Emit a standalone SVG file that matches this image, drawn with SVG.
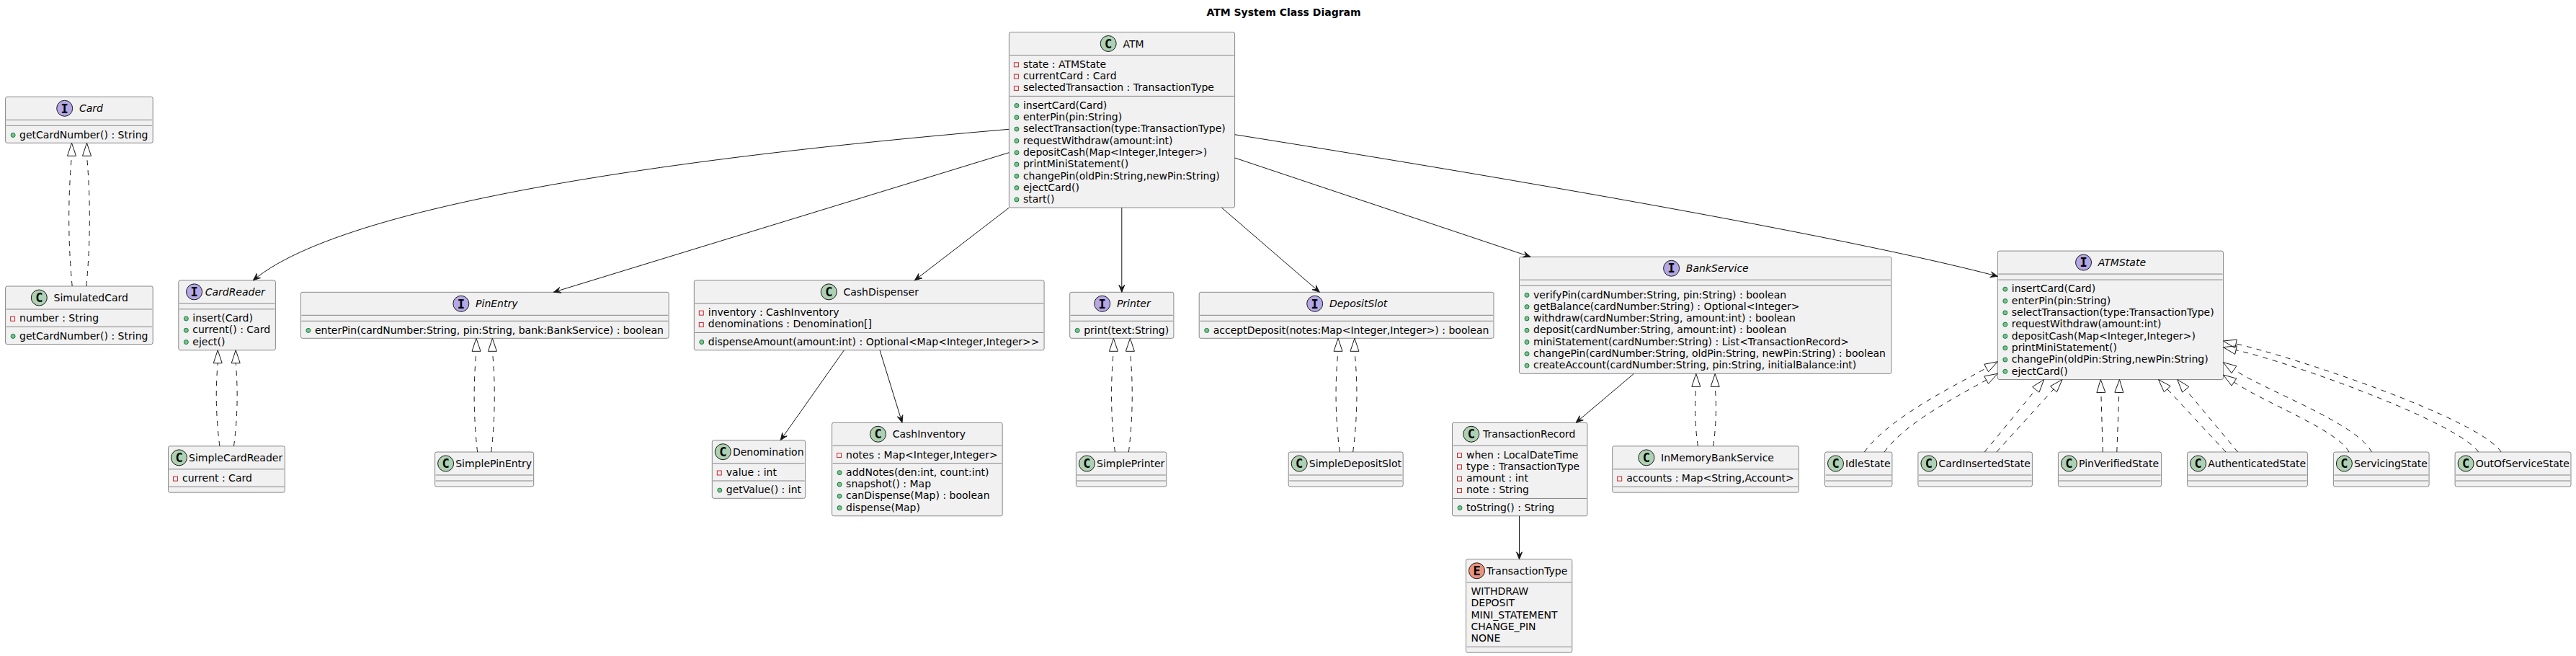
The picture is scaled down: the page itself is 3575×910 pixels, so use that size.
<svg xmlns="http://www.w3.org/2000/svg" width="3575" height="910" viewBox="0 0 3575 910">
<style>
.bx{fill:#F1F1F1;stroke:#181818;stroke-width:0.5}
.sp{stroke:#181818;stroke-width:0.5}
.t{font-family:"DejaVu Sans",sans-serif;font-size:14px;fill:#000000}
.it{font-style:italic}
.ttl{font-family:"DejaVu Sans",sans-serif;font-size:14px;font-weight:bold;fill:#000000;text-anchor:middle}
.cc{fill:#ADD1B2;stroke:#181818;stroke-width:1}
.ci{fill:#B4A7E5;stroke:#181818;stroke-width:1}
.ce{fill:#EB937F;stroke:#181818;stroke-width:1}
.lt{font-family:"DejaVu Sans Mono",monospace;font-weight:bold;font-size:17px;fill:#000000;text-anchor:middle}
.pub{fill:#84BE84;stroke:#038048;stroke-width:1}
.prv{fill:none;stroke:#C82930;stroke-width:1}
.ed{fill:none;stroke:#181818;stroke-width:1}
.ds{fill:none;stroke:#181818;stroke-width:1;stroke-dasharray:7,7}
.ah{fill:#181818;stroke:#181818;stroke-width:1}
.tr{fill:none;stroke:#181818;stroke-width:1}
</style>
<rect width="3575" height="910" fill="#FFFFFF"/>
<text class="ttl" x="1781.5" y="22">ATM System Class Diagram</text>

<g id="Card">
<rect class="bx" x="7.6" y="134.3" width="204.6" height="64" rx="2.5"/>
<circle class="ci" cx="89.7" cy="150.3" r="11"/><text class="lt" x="89.7" y="156.5">I</text>
<text class="t it" x="109.9" y="155.3">Card</text>
<line class="sp" x1="8.6" y1="166.3" x2="211.2" y2="166.3"/><line class="sp" x1="8.6" y1="174.3" x2="211.2" y2="174.3"/>
<circle class="pub" cx="18.1" cy="187.4" r="3"/><text class="t" x="27.1" y="191.6">getCardNumber() : String</text>
</g>

<g id="SimulatedCard">
<rect class="bx" x="7.6" y="397" width="204.6" height="80.6" rx="2.5"/>
<circle class="cc" cx="54.3" cy="413" r="11"/><text class="lt" x="54.3" y="419.2">C</text>
<text class="t" x="74.5" y="418">SimulatedCard</text>
<line class="sp" x1="8.6" y1="429" x2="211.2" y2="429"/><line class="sp" x1="8.6" y1="453.3" x2="211.2" y2="453.3"/>
<rect class="prv" x="14.6" y="439.3" width="6" height="6"/><text class="t" x="27.1" y="446.3">number : String</text>
<circle class="pub" cx="18.1" cy="466.4" r="3"/><text class="t" x="27.1" y="470.6">getCardNumber() : String</text>
</g>

<g id="CardReader">
<rect class="bx" x="247.8" y="388.85" width="134.6" height="96.9" rx="2.5"/>
<circle class="ci" cx="269.55" cy="404.85" r="11"/><text class="lt" x="269.55" y="411.05">I</text>
<text class="t it" x="284.65" y="409.85">CardReader</text>
<line class="sp" x1="248.8" y1="420.85" x2="381.4" y2="420.85"/><line class="sp" x1="248.8" y1="428.85" x2="381.4" y2="428.85"/>
<circle class="pub" cx="258.3" cy="441.95" r="3"/><text class="t" x="267.3" y="446.15">insert(Card)</text>
<circle class="pub" cx="258.3" cy="458.25" r="3"/><text class="t" x="267.3" y="462.45">current() : Card</text>
<circle class="pub" cx="258.3" cy="474.55" r="3"/><text class="t" x="267.3" y="478.75">eject()</text>
</g>

<g id="SimpleCardReader">
<rect class="bx" x="233.5" y="618.85" width="161.8" height="64.3" rx="2.5"/>
<circle class="cc" cx="248.5" cy="634.85" r="11"/><text class="lt" x="248.5" y="641.05">C</text>
<text class="t" x="262.1" y="639.85">SimpleCardReader</text>
<line class="sp" x1="234.5" y1="650.85" x2="394.3" y2="650.85"/><line class="sp" x1="234.5" y1="675.15" x2="394.3" y2="675.15"/>
<rect class="prv" x="240.5" y="661.15" width="6" height="6"/><text class="t" x="253" y="668.15">current : Card</text>
</g>

<g id="PinEntry">
<rect class="bx" x="417.4" y="405.3" width="510.8" height="64" rx="2.5"/>
<circle class="ci" cx="639.85" cy="421.3" r="11"/><text class="lt" x="639.85" y="427.5">I</text>
<text class="t it" x="660.05" y="426.3">PinEntry</text>
<line class="sp" x1="418.4" y1="437.3" x2="927.2" y2="437.3"/><line class="sp" x1="418.4" y1="445.3" x2="927.2" y2="445.3"/>
<circle class="pub" cx="427.9" cy="458.4" r="3"/><text class="t" x="436.9" y="462.6">enterPin(cardNumber:String, pin:String, bank:BankService) : boolean</text>
</g>

<g id="SimplePinEntry">
<rect class="bx" x="603.6" y="627" width="137.1" height="48" rx="2.5"/>
<circle class="cc" cx="618.6" cy="643" r="11"/><text class="lt" x="618.6" y="649.2">C</text>
<text class="t" x="632.2" y="648">SimplePinEntry</text>
<line class="sp" x1="604.6" y1="659" x2="739.7" y2="659"/><line class="sp" x1="604.6" y1="667" x2="739.7" y2="667"/>
</g>

<g id="CashDispenser">
<rect class="bx" x="963.3" y="388.85" width="485.8" height="96.9" rx="2.5"/>
<circle class="cc" cx="1150.25" cy="404.85" r="11"/><text class="lt" x="1150.25" y="411.05">C</text>
<text class="t" x="1170.45" y="409.85">CashDispenser</text>
<line class="sp" x1="964.3" y1="420.85" x2="1448.1" y2="420.85"/><line class="sp" x1="964.3" y1="461.45" x2="1448.1" y2="461.45"/>
<rect class="prv" x="970.3" y="431.15" width="6" height="6"/><text class="t" x="982.8" y="438.15">inventory : CashInventory</text>
<rect class="prv" x="970.3" y="447.45" width="6" height="6"/><text class="t" x="982.8" y="454.45">denominations : Denomination[]</text>
<circle class="pub" cx="973.8" cy="474.55" r="3"/><text class="t" x="982.8" y="478.75">dispenseAmount(amount:int) : Optional&lt;Map&lt;Integer,Integer&gt;&gt;</text>
</g>

<g id="Denomination">
<rect class="bx" x="988.3" y="610.7" width="129.4" height="80.6" rx="2.5"/>
<circle class="cc" cx="1003.3" cy="626.7" r="11"/><text class="lt" x="1003.3" y="632.9">C</text>
<text class="t" x="1016.9" y="631.7">Denomination</text>
<line class="sp" x1="989.3" y1="642.7" x2="1116.7" y2="642.7"/><line class="sp" x1="989.3" y1="667" x2="1116.7" y2="667"/>
<rect class="prv" x="995.3" y="653" width="6" height="6"/><text class="t" x="1007.8" y="660">value : int</text>
<circle class="pub" cx="998.8" cy="680.1" r="3"/><text class="t" x="1007.8" y="684.3">getValue() : int</text>
</g>

<g id="CashInventory">
<rect class="bx" x="1154.6" y="586.25" width="236.6" height="129.5" rx="2.5"/>
<circle class="cc" cx="1218.5" cy="602.25" r="11"/><text class="lt" x="1218.5" y="608.45">C</text>
<text class="t" x="1238.7" y="607.25">CashInventory</text>
<line class="sp" x1="1155.6" y1="618.25" x2="1390.2" y2="618.25"/><line class="sp" x1="1155.6" y1="642.55" x2="1390.2" y2="642.55"/>
<rect class="prv" x="1161.6" y="628.55" width="6" height="6"/><text class="t" x="1174.1" y="635.55">notes : Map&lt;Integer,Integer&gt;</text>
<circle class="pub" cx="1165.1" cy="655.65" r="3"/><text class="t" x="1174.1" y="659.85">addNotes(den:int, count:int)</text>
<circle class="pub" cx="1165.1" cy="671.95" r="3"/><text class="t" x="1174.1" y="676.15">snapshot() : Map</text>
<circle class="pub" cx="1165.1" cy="688.25" r="3"/><text class="t" x="1174.1" y="692.45">canDispense(Map) : boolean</text>
<circle class="pub" cx="1165.1" cy="704.55" r="3"/><text class="t" x="1174.1" y="708.75">dispense(Map)</text>
</g>

<g id="Printer">
<rect class="bx" x="1484.7" y="405.3" width="144.2" height="64" rx="2.5"/>
<circle class="ci" cx="1529.7" cy="421.3" r="11"/><text class="lt" x="1529.7" y="427.5">I</text>
<text class="t it" x="1549.9" y="426.3">Printer</text>
<line class="sp" x1="1485.7" y1="437.3" x2="1627.9" y2="437.3"/><line class="sp" x1="1485.7" y1="445.3" x2="1627.9" y2="445.3"/>
<circle class="pub" cx="1495.2" cy="458.4" r="3"/><text class="t" x="1504.2" y="462.6">print(text:String)</text>
</g>

<g id="SimplePrinter">
<rect class="bx" x="1493.4" y="627" width="125.4" height="48" rx="2.5"/>
<circle class="cc" cx="1508.4" cy="643" r="11"/><text class="lt" x="1508.4" y="649.2">C</text>
<text class="t" x="1522" y="648">SimplePrinter</text>
<line class="sp" x1="1494.4" y1="659" x2="1617.8" y2="659"/><line class="sp" x1="1494.4" y1="667" x2="1617.8" y2="667"/>
</g>

<g id="DepositSlot">
<rect class="bx" x="1664.2" y="405.3" width="408.8" height="64" rx="2.5"/>
<circle class="ci" cx="1824.7" cy="421.3" r="11"/><text class="lt" x="1824.7" y="427.5">I</text>
<text class="t it" x="1844.9" y="426.3">DepositSlot</text>
<line class="sp" x1="1665.2" y1="437.3" x2="2072" y2="437.3"/><line class="sp" x1="1665.2" y1="445.3" x2="2072" y2="445.3"/>
<circle class="pub" cx="1674.7" cy="458.4" r="3"/><text class="t" x="1683.7" y="462.6">acceptDeposit(notes:Map&lt;Integer,Integer&gt;) : boolean</text>
</g>

<g id="SimpleDepositSlot">
<rect class="bx" x="1788.2" y="627" width="159" height="48" rx="2.5"/>
<circle class="cc" cx="1803.2" cy="643" r="11"/><text class="lt" x="1803.2" y="649.2">C</text>
<text class="t" x="1816.8" y="648">SimpleDepositSlot</text>
<line class="sp" x1="1789.2" y1="659" x2="1946.2" y2="659"/><line class="sp" x1="1789.2" y1="667" x2="1946.2" y2="667"/>
</g>

<g id="ATM">
<rect class="bx" x="1400.4" y="44.5" width="313.2" height="243.6" rx="2.5"/>
<circle class="cc" cx="1538.2" cy="60.5" r="11"/><text class="lt" x="1538.2" y="66.7">C</text>
<text class="t" x="1558.4" y="65.5">ATM</text>
<line class="sp" x1="1401.4" y1="76.5" x2="1712.6" y2="76.5"/><line class="sp" x1="1401.4" y1="133.4" x2="1712.6" y2="133.4"/>
<rect class="prv" x="1407.4" y="86.8" width="6" height="6"/><text class="t" x="1419.9" y="93.8">state : ATMState</text>
<rect class="prv" x="1407.4" y="103.1" width="6" height="6"/><text class="t" x="1419.9" y="110.1">currentCard : Card</text>
<rect class="prv" x="1407.4" y="119.4" width="6" height="6"/><text class="t" x="1419.9" y="126.4">selectedTransaction : TransactionType</text>
<circle class="pub" cx="1410.9" cy="146.5" r="3"/><text class="t" x="1419.9" y="150.7">insertCard(Card)</text>
<circle class="pub" cx="1410.9" cy="162.8" r="3"/><text class="t" x="1419.9" y="167">enterPin(pin:String)</text>
<circle class="pub" cx="1410.9" cy="179.1" r="3"/><text class="t" x="1419.9" y="183.3">selectTransaction(type:TransactionType)</text>
<circle class="pub" cx="1410.9" cy="195.4" r="3"/><text class="t" x="1419.9" y="199.6">requestWithdraw(amount:int)</text>
<circle class="pub" cx="1410.9" cy="211.7" r="3"/><text class="t" x="1419.9" y="215.9">depositCash(Map&lt;Integer,Integer&gt;)</text>
<circle class="pub" cx="1410.9" cy="228" r="3"/><text class="t" x="1419.9" y="232.2">printMiniStatement()</text>
<circle class="pub" cx="1410.9" cy="244.3" r="3"/><text class="t" x="1419.9" y="248.5">changePin(oldPin:String,newPin:String)</text>
<circle class="pub" cx="1410.9" cy="260.6" r="3"/><text class="t" x="1419.9" y="264.8">ejectCard()</text>
<circle class="pub" cx="1410.9" cy="276.9" r="3"/><text class="t" x="1419.9" y="281.1">start()</text>
</g>

<g id="BankService">
<rect class="bx" x="2108.5" y="356.25" width="516.5" height="162.1" rx="2.5"/>
<circle class="ci" cx="2319.6" cy="372.25" r="11"/><text class="lt" x="2319.6" y="378.45">I</text>
<text class="t it" x="2339.8" y="377.25">BankService</text>
<line class="sp" x1="2109.5" y1="388.25" x2="2624" y2="388.25"/><line class="sp" x1="2109.5" y1="396.25" x2="2624" y2="396.25"/>
<circle class="pub" cx="2119" cy="409.35" r="3"/><text class="t" x="2128" y="413.55">verifyPin(cardNumber:String, pin:String) : boolean</text>
<circle class="pub" cx="2119" cy="425.65" r="3"/><text class="t" x="2128" y="429.85">getBalance(cardNumber:String) : Optional&lt;Integer&gt;</text>
<circle class="pub" cx="2119" cy="441.95" r="3"/><text class="t" x="2128" y="446.15">withdraw(cardNumber:String, amount:int) : boolean</text>
<circle class="pub" cx="2119" cy="458.25" r="3"/><text class="t" x="2128" y="462.45">deposit(cardNumber:String, amount:int) : boolean</text>
<circle class="pub" cx="2119" cy="474.55" r="3"/><text class="t" x="2128" y="478.75">miniStatement(cardNumber:String) : List&lt;TransactionRecord&gt;</text>
<circle class="pub" cx="2119" cy="490.85" r="3"/><text class="t" x="2128" y="495.05">changePin(cardNumber:String, oldPin:String, newPin:String) : boolean</text>
<circle class="pub" cx="2119" cy="507.15" r="3"/><text class="t" x="2128" y="511.35">createAccount(cardNumber:String, pin:String, initialBalance:int)</text>
</g>

<g id="TransactionRecord">
<rect class="bx" x="2015.5" y="586.25" width="187.4" height="129.5" rx="2.5"/>
<circle class="cc" cx="2041.8" cy="602.25" r="11"/><text class="lt" x="2041.8" y="608.45">C</text>
<text class="t" x="2058" y="607.25">TransactionRecord</text>
<line class="sp" x1="2016.5" y1="618.25" x2="2201.9" y2="618.25"/><line class="sp" x1="2016.5" y1="691.45" x2="2201.9" y2="691.45"/>
<rect class="prv" x="2022.5" y="628.55" width="6" height="6"/><text class="t" x="2035" y="635.55">when : LocalDateTime</text>
<rect class="prv" x="2022.5" y="644.85" width="6" height="6"/><text class="t" x="2035" y="651.85">type : TransactionType</text>
<rect class="prv" x="2022.5" y="661.15" width="6" height="6"/><text class="t" x="2035" y="668.15">amount : int</text>
<rect class="prv" x="2022.5" y="677.45" width="6" height="6"/><text class="t" x="2035" y="684.45">note : String</text>
<circle class="pub" cx="2026" cy="704.55" r="3"/><text class="t" x="2035" y="708.75">toString() : String</text>
</g>

<g id="InMemoryBankService">
<rect class="bx" x="2237.7" y="618.85" width="258.75" height="64.3" rx="2.5"/>
<circle class="cc" cx="2284.9" cy="634.85" r="11"/><text class="lt" x="2284.9" y="641.05">C</text>
<text class="t" x="2305.1" y="639.85">InMemoryBankService</text>
<line class="sp" x1="2238.7" y1="650.85" x2="2495.45" y2="650.85"/><line class="sp" x1="2238.7" y1="675.15" x2="2495.45" y2="675.15"/>
<rect class="prv" x="2244.7" y="661.15" width="6" height="6"/><text class="t" x="2257.2" y="668.15">accounts : Map&lt;String,Account&gt;</text>
</g>

<g id="TransactionType">
<rect class="bx" x="2034.5" y="775.75" width="147.3" height="129.5" rx="2.5"/>
<circle class="ce" cx="2049.5" cy="791.75" r="11"/><text class="lt" x="2049.5" y="797.95">E</text>
<text class="t" x="2063.1" y="796.75">TransactionType</text>
<line class="sp" x1="2035.5" y1="807.75" x2="2180.8" y2="807.75"/><line class="sp" x1="2035.5" y1="897.25" x2="2180.8" y2="897.25"/>
<text class="t" x="2041.5" y="825.05">WITHDRAW</text>
<text class="t" x="2041.5" y="841.35">DEPOSIT</text>
<text class="t" x="2041.5" y="857.65">MINI_STATEMENT</text>
<text class="t" x="2041.5" y="873.95">CHANGE_PIN</text>
<text class="t" x="2041.5" y="890.25">NONE</text>
</g>

<g id="ATMState">
<rect class="bx" x="2772.3" y="348.1" width="313.2" height="178.4" rx="2.5"/>
<circle class="ci" cx="2891.55" cy="364.1" r="11"/><text class="lt" x="2891.55" y="370.3">I</text>
<text class="t it" x="2911.75" y="369.1">ATMState</text>
<line class="sp" x1="2773.3" y1="380.1" x2="3084.5" y2="380.1"/><line class="sp" x1="2773.3" y1="388.1" x2="3084.5" y2="388.1"/>
<circle class="pub" cx="2782.8" cy="401.2" r="3"/><text class="t" x="2791.8" y="405.4">insertCard(Card)</text>
<circle class="pub" cx="2782.8" cy="417.5" r="3"/><text class="t" x="2791.8" y="421.7">enterPin(pin:String)</text>
<circle class="pub" cx="2782.8" cy="433.8" r="3"/><text class="t" x="2791.8" y="438">selectTransaction(type:TransactionType)</text>
<circle class="pub" cx="2782.8" cy="450.1" r="3"/><text class="t" x="2791.8" y="454.3">requestWithdraw(amount:int)</text>
<circle class="pub" cx="2782.8" cy="466.4" r="3"/><text class="t" x="2791.8" y="470.6">depositCash(Map&lt;Integer,Integer&gt;)</text>
<circle class="pub" cx="2782.8" cy="482.7" r="3"/><text class="t" x="2791.8" y="486.9">printMiniStatement()</text>
<circle class="pub" cx="2782.8" cy="499" r="3"/><text class="t" x="2791.8" y="503.2">changePin(oldPin:String,newPin:String)</text>
<circle class="pub" cx="2782.8" cy="515.3" r="3"/><text class="t" x="2791.8" y="519.5">ejectCard()</text>
</g>

<g id="IdleState">
<rect class="bx" x="2532.5" y="627" width="93.4" height="48" rx="2.5"/>
<circle class="cc" cx="2547.5" cy="643" r="11"/><text class="lt" x="2547.5" y="649.2">C</text>
<text class="t" x="2561.1" y="648">IdleState</text>
<line class="sp" x1="2533.5" y1="659" x2="2624.9" y2="659"/><line class="sp" x1="2533.5" y1="667" x2="2624.9" y2="667"/>
</g>

<g id="CardInsertedState">
<rect class="bx" x="2661.9" y="627" width="158.5" height="48" rx="2.5"/>
<circle class="cc" cx="2676.9" cy="643" r="11"/><text class="lt" x="2676.9" y="649.2">C</text>
<text class="t" x="2690.5" y="648">CardInsertedState</text>
<line class="sp" x1="2662.9" y1="659" x2="2819.4" y2="659"/><line class="sp" x1="2662.9" y1="667" x2="2819.4" y2="667"/>
</g>

<g id="PinVerifiedState">
<rect class="bx" x="2856.4" y="627" width="143.2" height="48" rx="2.5"/>
<circle class="cc" cx="2871.4" cy="643" r="11"/><text class="lt" x="2871.4" y="649.2">C</text>
<text class="t" x="2885" y="648">PinVerifiedState</text>
<line class="sp" x1="2857.4" y1="659" x2="2998.6" y2="659"/><line class="sp" x1="2857.4" y1="667" x2="2998.6" y2="667"/>
</g>

<g id="AuthenticatedState">
<rect class="bx" x="3035.6" y="627" width="166.8" height="48" rx="2.5"/>
<circle class="cc" cx="3050.6" cy="643" r="11"/><text class="lt" x="3050.6" y="649.2">C</text>
<text class="t" x="3064.2" y="648">AuthenticatedState</text>
<line class="sp" x1="3036.6" y1="659" x2="3201.4" y2="659"/><line class="sp" x1="3036.6" y1="667" x2="3201.4" y2="667"/>
</g>

<g id="ServicingState">
<rect class="bx" x="3238.4" y="627" width="132.7" height="48" rx="2.5"/>
<circle class="cc" cx="3253.4" cy="643" r="11"/><text class="lt" x="3253.4" y="649.2">C</text>
<text class="t" x="3267" y="648">ServicingState</text>
<line class="sp" x1="3239.4" y1="659" x2="3370.1" y2="659"/><line class="sp" x1="3239.4" y1="667" x2="3370.1" y2="667"/>
</g>

<g id="OutOfServiceState">
<rect class="bx" x="3407.1" y="627" width="160.9" height="48" rx="2.5"/>
<circle class="cc" cx="3422.1" cy="643" r="11"/><text class="lt" x="3422.1" y="649.2">C</text>
<text class="t" x="3435.7" y="648">OutOfServiceState</text>
<line class="sp" x1="3408.1" y1="659" x2="3567" y2="659"/><line class="sp" x1="3408.1" y1="667" x2="3567" y2="667"/>
</g>

<g id="connectors">
<path class="ed" d="M1400.4,179.3 C1100,205 500,265 351.3,388.85"/>
<polygon class="ah" points="351.3,388.85 356.42,379.38 355.9,385.01 361.54,385.52"/>
<path class="ed" d="M1400.4,211.7 L768.3,405.3"/>
<polygon class="ah" points="768.3,405.3 776.69,398.55 774.04,403.54 779.03,406.19"/>
<path class="ed" d="M1400.4,288.1 L1269.4,388.85"/>
<polygon class="ah" points="1269.4,388.85 1274.89,379.58 1274.16,385.19 1279.77,385.92"/>
<path class="ed" d="M1556.8,288.1 L1556.8,405.3"/>
<polygon class="ah" points="1556.8,405.3 1552.8,395.3 1556.8,399.3 1560.8,395.3"/>
<path class="ed" d="M1695.5,288.1 L1831.3,405.3"/>
<polygon class="ah" points="1831.3,405.3 1821.12,401.8 1826.76,401.38 1826.34,395.74"/>
<path class="ed" d="M1713.6,219 L2124,356.25"/>
<polygon class="ah" points="2124,356.25 2113.25,356.87 2118.31,354.35 2115.79,349.29"/>
<path class="ed" d="M1713.6,186.7 C2050,240 2550,325 2772.3,383.3"/>
<polygon class="ah" points="2772.3,383.3 2761.61,384.63 2766.5,381.78 2763.65,376.89"/>
<path class="ed" d="M1171.4,485.75 L1083.2,610.7"/>
<polygon class="ah" points="1083.2,610.7 1085.7,600.22 1086.66,605.8 1092.24,604.84"/>
<path class="ed" d="M1221,485.75 L1252,586.25"/>
<polygon class="ah" points="1252,586.25 1245.23,577.88 1250.23,580.52 1252.87,575.52"/>
<path class="ed" d="M2267.5,518.35 L2187.1,586.25"/>
<polygon class="ah" points="2187.1,586.25 2192.16,576.74 2191.68,582.38 2197.32,582.86"/>
<path class="ed" d="M2108.5,715.75 L2108.5,775.75"/>
<polygon class="ah" points="2108.5,775.75 2104.5,765.75 2108.5,769.75 2112.5,765.75"/>

<path class="ds" d="M100.2,397 Q91.55,306.65 99.5,216.3"/>
<polygon class="tr" points="99.5,198.3 93.5,216.3 105.5,216.3"/>
<path class="ds" d="M119.8,397 Q128.45,306.65 120.5,216.3"/>
<polygon class="tr" points="120.5,198.3 114.5,216.3 126.5,216.3"/>

<path class="ds" d="M304.9,618.85 Q297.25,561.3 302.2,503.75"/>
<polygon class="tr" points="302.2,485.75 296.2,503.75 308.2,503.75"/>
<path class="ds" d="M324.5,618.85 Q332.15,561.3 327.2,503.75"/>
<polygon class="tr" points="327.2,485.75 321.2,503.75 333.2,503.75"/>

<path class="ds" d="M662.6,627 Q654.6,557.15 661,487.3"/>
<polygon class="tr" points="661,469.3 655,487.3 667,487.3"/>
<path class="ds" d="M681.8,627 Q689.8,557.15 683.4,487.3"/>
<polygon class="tr" points="683.4,469.3 677.4,487.3 689.4,487.3"/>

<path class="ds" d="M1547.4,627 Q1538.8,557.15 1545.4,487.3"/>
<polygon class="tr" points="1545.4,469.3 1539.4,487.3 1551.4,487.3"/>
<path class="ds" d="M1566.4,627 Q1575,557.15 1568.4,487.3"/>
<polygon class="tr" points="1568.4,469.3 1562.4,487.3 1574.4,487.3"/>

<path class="ds" d="M1859.35,627 Q1850.1,557.15 1857.05,487.3"/>
<polygon class="tr" points="1857.05,469.3 1851.05,487.3 1863.05,487.3"/>
<path class="ds" d="M1877.65,627 Q1886.9,557.15 1879.95,487.3"/>
<polygon class="tr" points="1879.95,469.3 1873.95,487.3 1885.95,487.3"/>

<path class="ds" d="M2356.4,618.85 Q2350.4,577.6 2353.8,536.35"/>
<polygon class="tr" points="2353.8,518.35 2347.8,536.35 2359.8,536.35"/>
<path class="ds" d="M2377.6,618.85 Q2383.6,577.6 2380.2,536.35"/>
<polygon class="tr" points="2380.2,518.35 2374.2,536.35 2386.2,536.35"/>

<path class="ds" d="M2587.3,627 C2622.7,578.4 2713.1,535 2756.64,510.52"/>
<polygon class="tr" points="2772.3,501.7 2759.58,515.74 2753.7,505.3"/>
<path class="ds" d="M2615,627 C2644.5,586.5 2713.1,551.6 2756.64,527.12"/>
<polygon class="tr" points="2772.3,518.3 2759.58,532.34 2753.7,521.9"/>

<path class="ds" d="M2754.3,627 L2825.29,540.41"/>
<polygon class="tr" points="2836.7,526.5 2829.93,544.21 2820.65,536.61"/>
<path class="ds" d="M2770.8,627 L2850,539.82"/>
<polygon class="tr" points="2862.1,526.5 2854.44,543.85 2845.56,535.79"/>

<path class="ds" d="M2918.3,627 L2915.84,544.49"/>
<polygon class="tr" points="2915.3,526.5 2921.84,544.31 2909.84,544.67"/>
<path class="ds" d="M2937.8,627 L2940.84,544.49"/>
<polygon class="tr" points="2941.5,526.5 2946.84,544.71 2934.84,544.27"/>

<path class="ds" d="M3089,627 L3007.76,539.68"/>
<polygon class="tr" points="2995.5,526.5 3012.15,535.59 3003.37,543.77"/>
<path class="ds" d="M3105.6,627 L3033.24,540.32"/>
<polygon class="tr" points="3021.7,526.5 3037.85,536.47 3028.63,544.17"/>

<path class="ds" d="M3291.3,627 C3271.3,587 3141.9,541 3100.42,512.76"/>
<polygon class="tr" points="3085.5,502.7 3103.77,507.79 3097.07,517.73"/>
<path class="ds" d="M3259.9,627 C3244.9,597 3141.9,558.3 3100.42,530.06"/>
<polygon class="tr" points="3085.5,520 3103.77,525.09 3097.07,535.03"/>

<path class="ds" d="M3471.1,627 C3440,580 3180.3,494.3 3103.07,476.91"/>
<polygon class="tr" points="3085.5,473 3104.37,471.05 3101.77,482.77"/>
<path class="ds" d="M3439.6,627 C3410,585 3180.3,503 3103.07,485.61"/>
<polygon class="tr" points="3085.5,481.7 3104.37,479.75 3101.77,491.47"/>
</g>
</svg>
